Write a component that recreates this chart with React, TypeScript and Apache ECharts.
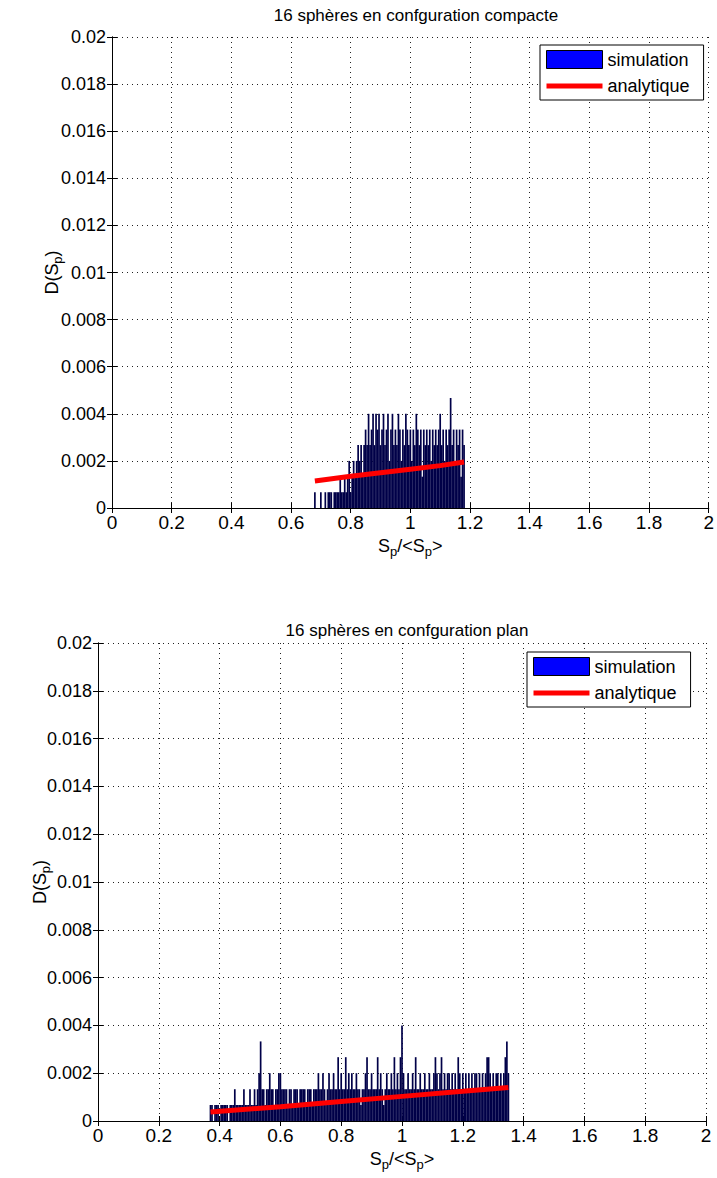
import React, { useEffect, useRef } from "react";
import * as echarts from "echarts";

// Histogram levels
const L1 = 0.00067, L2 = 0.00133, L3 = 0.002, L4 = 0.00267, L5 = 0.00333, L6 = 0.004, L7 = 0.00467;

// Top chart: bins from 0.68, width 0.005
const topBinStart = 0.68;
const topBinWidth = 0.005;
const topSim = [
  L1, 0, 0, 0, L1, 0, 0, L1, 0, L1,
  L1, L1, 0, L1, L1, L1, L1, L2, L1, L1,
  L2, L1, L2, L3, L1, L2, L3, L2, L3, L4,
  L3, L4, L2, L4, L5, L4, L6, L4, L5, L6,
  L4, L6, L5, L6, L4, L5, L6, L4, L5, L6,
  L3, L5, L6, L4, L5, L4, L6, L5, L3, L5,
  L4, L6, L5, L4, L5, L3, L5, L4, L6, L5,
  L4, L5, L2, L5, L4, L5, L4, L5, L3, L5,
  L4, L5, L4, L5, L6, L4, L5, L3, L5, L4,
  L5, L7, L4, L5, L3, L5, L4, L5, L2, L5,
  L4,
];
const topAnaX = [0.68, 0.8, 0.9, 1.0, 1.1, 1.18];
const topAnaY = [0.00115, 0.00135, 0.0015, 0.00165, 0.0018, 0.00195];

// Bottom chart: bins from 0.37, width 0.005
const botBinStart = 0.37;
const botBinWidth = 0.005;
const botSim = [
  L1, L1, 0, L1, L1, L1, 0, L1, L1, L1,
  L1, L1, 0, L1, L1, L1, L2, L1, L1, L1,
  L1, L1, L2, L1, L1, L1, L2, L1, L1, L2,
  L1, L2, L3, L5, L2, L2, L1, L2, L2, L3,
  L2, L2, L1, L2, L2, L3, L3, L2, L2, L2,
  L2, L1, L2, L2, L1, L2, L2, L2, L1, L2,
  L2, L2, L2, L1, L2, L2, L2, L1, L2, L2,
  L2, L3, L2, L2, L3, L2, L1, L2, L3, L2,
  L2, L3, L2, L2, L4, L2, L3, L2, L2, L4,
  L2, L3, L2, L3, L2, L2, L3, L2, L2, L1,
  L2, L2, L3, L4, L2, L2, L3, L2, L2, L2,
  L4, L2, L3, L2, L1, L2, L3, L2, L2, L3,
  L2, L4, L2, L3, L2, L4, L6, L3, L2, L2,
  L3, L2, L2, L3, L2, L4, L2, L2, L3, L2,
  L2, L3, L2, L2, L3, L2, L2, L3, L4, L3,
  L2, L3, L4, L2, L3, L2, L3, L3, L2, L3,
  L2, L3, L2, L4, L3, L2, L3, L2, L3, L2,
  L3, L2, L3, L2, L3, L3, L2, L3, L2, L3,
  L2, L3, L4, L4, L3, L2, L3, L2, L3, L3,
  L2, L3, L2, L3, L4, L5, L3,
];
const botAnaX = [0.37, 0.6, 0.8, 1.0, 1.2, 1.35];
const botAnaY = [0.00038, 0.0006, 0.00082, 0.00103, 0.00124, 0.0014];

const titles = ["16 sphères en confguration compacte", "16 sphères en confguration plan"];
const xTicks = { min: 0, max: 2, interval: 0.2 };
const yTicks = { min: 0, max: 0.02, interval: 0.002 };

const FONT = "Liberation Sans, Arial, Helvetica, sans-serif";

const rich = {
  a: { fontSize: 18, fontFamily: FONT, color: "#000", lineHeight: 24 },
  b: { fontSize: 13, fontFamily: FONT, color: "#000", lineHeight: 12, verticalAlign: "bottom" },
};

function bins(start: number, width: number, vals: number[]) {
  return vals.map((v, i) => [+(start + i * width).toFixed(4), v]);
}

export default function App() {
  const ref = useRef<HTMLDivElement>(null);
  useEffect(() => {
    if (!ref.current) return;
    const chart = echarts.init(ref.current, null, { renderer: "svg" });
    const grids = [
      { left: 112, width: 598, top: 37, height: 471 },
      { left: 98, width: 608, top: 643, height: 478 },
    ];
    const xAxes: any[] = [];
    const yAxes: any[] = [];
    grids.forEach((g, gi) => {
      xAxes.push({
        type: "value", gridIndex: gi, ...xTicks, position: "bottom",
        axisLine: { show: true, lineStyle: { color: "#000", width: 1 } },
        axisTick: { show: true, inside: true, length: 5, lineStyle: { color: "#000" } },
        axisLabel: { color: "#000", fontSize: 19, fontFamily: FONT, margin: 5 },
        splitLine: { show: true, lineStyle: { color: "#222", type: [1, 4], width: 1 } },
        name: "{a|S}{b|p}{a|/<S}{b|p}{a|>}",
        nameLocation: "middle", nameGap: 26, nameMoveOverlap: false,
        nameTextStyle: { rich },
      });
      xAxes.push({
        type: "value", gridIndex: gi, ...xTicks, position: "top",
        axisLine: { show: true, lineStyle: { color: "#000", width: 1 } },
        axisTick: { show: true, inside: true, length: 5, lineStyle: { color: "#000" } },
        axisLabel: { show: false }, splitLine: { show: false },
      });
      yAxes.push({
        type: "value", gridIndex: gi, ...yTicks, position: "left",
        axisLine: { show: true, lineStyle: { color: "#000", width: 1 } },
        axisTick: { show: true, inside: true, length: 5, lineStyle: { color: "#000" } },
        axisLabel: { color: "#000", fontSize: 18, fontFamily: FONT, margin: 6 },
        splitLine: { show: true, lineStyle: { color: "#222", type: [1, 4], width: 1 } },
        name: "{a|D(S}{b|p}{a|)}",
        nameLocation: "middle", nameGap: gi === 0 ? 48 : 46, nameMoveOverlap: false,
        nameTextStyle: { rich },
      });
      yAxes.push({
        type: "value", gridIndex: gi, ...yTicks, position: "right",
        axisLine: { show: true, lineStyle: { color: "#000", width: 1 } },
        axisTick: { show: true, inside: true, length: 5, lineStyle: { color: "#000" } },
        axisLabel: { show: false }, splitLine: { show: false },
      });
    });

    const barStyle = { color: "#000048" };
    const lineStyle = { color: "#ff0000", width: 5 };

    const legendBase = {
      orient: "vertical",
      backgroundColor: "#fff",
      borderColor: "#000",
      borderWidth: 1,
      borderRadius: 0,
      padding: [5, 14, 5, 6],
      itemWidth: 56,
      itemHeight: 18,
      itemGap: 8,
      textStyle: { fontSize: 18, fontFamily: FONT, color: "#000" },
      data: [
        { name: "simulation", icon: "rect", itemStyle: { color: "#0000ff", borderColor: "#000", borderWidth: 1 } },
        { name: "analytique", icon: "path://M0,0H56V5H0Z", itemStyle: { color: "#ff0000" } },
      ],
      selectedMode: false,
      z: 10,
    };

    chart.setOption({
      animation: false,
      backgroundColor: "#fff",
      title: [
        { text: titles[0], left: 411, top: 2, textAlign: "center", textStyle: { fontSize: 17, fontWeight: "normal", fontFamily: FONT, color: "#000" } },
        { text: titles[1], left: 402, top: 617, textAlign: "center", textStyle: { fontSize: 17, fontWeight: "normal", fontFamily: FONT, color: "#000" } },
      ],
      legend: [
        { ...legendBase, left: 540, top: 45 },
        { ...legendBase, left: 527, top: 652 },
      ],
      grid: grids,
      xAxis: xAxes,
      yAxis: yAxes,
      series: [
        { name: "simulation", type: "bar", xAxisIndex: 0, yAxisIndex: 0, barWidth: 1.7, itemStyle: barStyle, data: bins(topBinStart, topBinWidth, topSim) },
        { name: "analytique", type: "line", xAxisIndex: 0, yAxisIndex: 0, symbol: "none", lineStyle, itemStyle: { color: "#ff0000" }, data: topAnaX.map((x, i) => [x, topAnaY[i]]) },
        { name: "simulation", type: "bar", xAxisIndex: 2, yAxisIndex: 2, barWidth: 1.7, itemStyle: barStyle, data: bins(botBinStart, botBinWidth, botSim) },
        { name: "analytique", type: "line", xAxisIndex: 2, yAxisIndex: 2, symbol: "none", lineStyle, itemStyle: { color: "#ff0000" }, data: botAnaX.map((x, i) => [x, botAnaY[i]]) },
      ],
    });
    return () => chart.dispose();
  }, []);
  return <div ref={ref} style={{ position: "absolute", left: 0, top: 0, width: 717, height: 1178 }} />;
}
